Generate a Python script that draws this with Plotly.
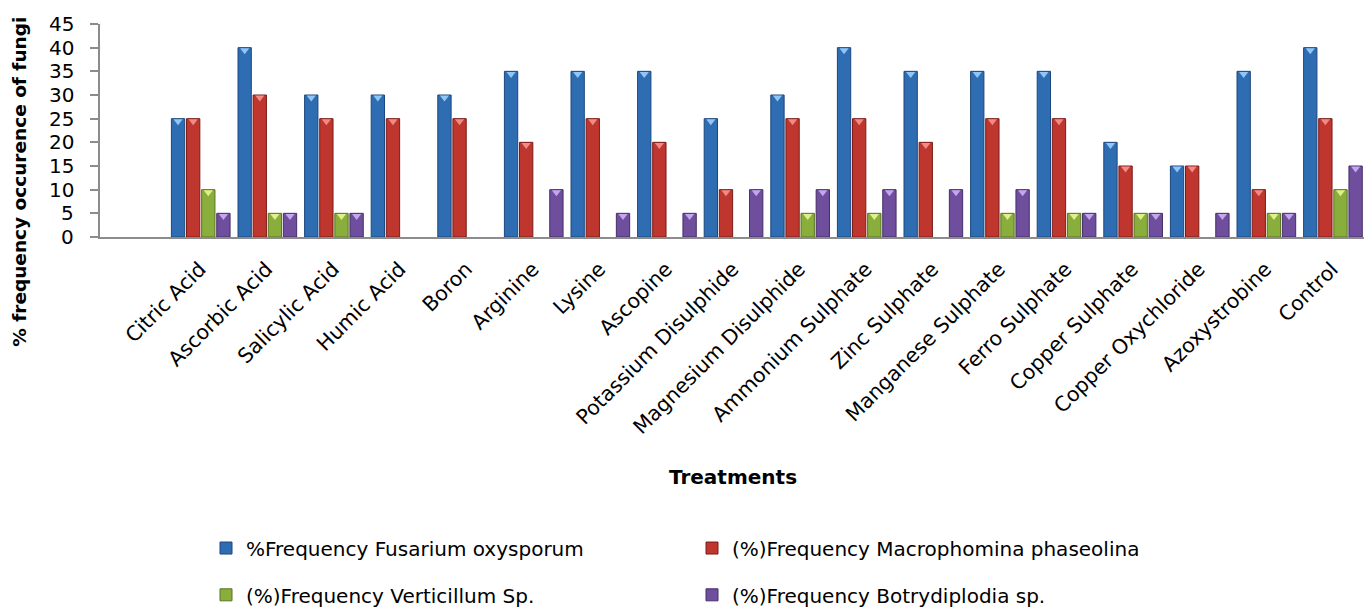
import plotly.graph_objects as go

treatments = ["Citric Acid", "Ascorbic Acid", "Salicylic Acid", "Humic Acid", "Boron",
              "Arginine", "Lysine", "Ascopine", "Potassium Disulphide", "Magnesium Disulphide",
              "Ammonium Sulphate", "Zinc Sulphate", "Manganese Sulphate", "Ferro Sulphate",
              "Copper Sulphate", "Copper Oxychloride", "Azoxystrobine", "Control"]

fusarium = [25, 40, 30, 30, 30, 35, 35, 35, 25, 30, 40, 35, 35, 35, 20, 15, 35, 40]
macrophomina = [25, 30, 25, 25, 25, 20, 25, 20, 10, 25, 25, 20, 25, 25, 15, 15, 10, 25]
verticillum = [10, 5, 5, 0, 0, 0, 0, 0, 0, 5, 5, 0, 5, 5, 5, 0, 5, 10]
botrydiplodia = [5, 5, 5, 0, 0, 10, 5, 5, 10, 10, 10, 10, 10, 5, 5, 5, 5, 15]

y_ticks = [0, 5, 10, 15, 20, 25, 30, 35, 40, 45]

series_names = ["%Frequency Fusarium oxysporum", "(%)Frequency Macrophomina phaseolina",
                "(%)Frequency Verticillum Sp.", "(%)Frequency Botrydiplodia sp."]
series_values = [fusarium, macrophomina, verticillum, botrydiplodia]

fill_colors = ["#2F6DB3", "#BE362D", "#8AAE3C", "#6F4E9E"]
edge_colors = ["#1C467C", "#7A1C18", "#587324", "#452E66"]
top_colors = ["#8FC6F7", "#F28A84", "#DDF08A", "#C4A6EE"]
legends = ["legend", "legend", "legend2", "legend2"]

FONT = "DejaVu Sans"
bar_w = 0.2
pitch = 0.227
start = -0.428

# page offset of the figure (body margin) and target plot box in page pixels
PLOT_L, PLOT_R, PLOT_T, PLOT_B = 100, 1364, 23.5, 237.5
OFF = 8
FIG_W, FIG_H = 1356, 599
PW, PH = PLOT_R - PLOT_L, PLOT_B - PLOT_T


def px_x(page_x):
    return (page_x - PLOT_L) / PW


def px_y(page_y):
    return (PLOT_B - page_y) / PH


x_idx = list(range(len(treatments)))
fig = go.Figure()

for k, (name, vals) in enumerate(zip(series_names, series_values)):
    yv = [v if v > 0 else None for v in vals]
    off = start + k * pitch
    fig.add_trace(go.Bar(
        x=x_idx, y=yv, name=name, width=bar_w, offset=off,
        marker=dict(color=fill_colors[k], line=dict(color=edge_colors[k], width=1)),
        legend=legends[k],
    ))
    # top bevel highlight
    fig.add_trace(go.Scatter(
        x=[i + off + bar_w / 2 for i in x_idx if vals[i] > 0],
        y=[vals[i] - 0.55 for i in x_idx if vals[i] > 0],
        mode="markers",
        marker=dict(symbol="triangle-down", size=8, color=top_colors[k],
                    line=dict(width=0)),
        showlegend=False, hoverinfo="skip",
    ))

fig.update_layout(
    width=FIG_W, height=FIG_H,
    margin=dict(l=PLOT_L - OFF, r=FIG_W - (PLOT_R - OFF), t=PLOT_T - OFF,
                b=FIG_H - (PLOT_B - OFF), autoexpand=False),
    paper_bgcolor="white", plot_bgcolor="white",
    barmode="overlay",
    font=dict(family=FONT, size=20, color="black"),
    showlegend=True,
    legend=dict(orientation="h", x=px_x(206), xanchor="left", y=px_y(550), yanchor="middle",
                entrywidth=441, entrywidthmode="pixels", font=dict(size=20, family=FONT),
                bgcolor="rgba(0,0,0,0)"),
    legend2=dict(orientation="h", x=px_x(206), xanchor="left", y=px_y(597), yanchor="middle",
                 entrywidth=441, entrywidthmode="pixels", font=dict(size=20, family=FONT),
                 bgcolor="rgba(0,0,0,0)"),
)

fig.update_xaxes(
    range=[-1.5, -1.5 + PW / 66.6], tickmode="array", tickvals=x_idx, ticktext=treatments,
    tickangle=-45, showline=True, linecolor="#8C8C8C", linewidth=2,
    ticks="", showgrid=False, zeroline=False, automargin=False,
    ticklabelstandoff=10,
    tickfont=dict(family=FONT, size=20.5, color="black"),
)
fig.update_yaxes(
    range=[0, 45], tickmode="array", tickvals=y_ticks, showticklabels=False,
    showline=True, linecolor="#8C8C8C", linewidth=2,
    ticks="outside", ticklen=8, tickwidth=2, tickcolor="#8C8C8C",
    automargin=False, showgrid=False, zeroline=False,
)

for v in y_ticks:
    fig.add_annotation(
        text=str(v), xref="paper", yref="y", x=px_x(76), y=v,
        showarrow=False, font=dict(family=FONT, size=20, color="black"),
        xanchor="right", yanchor="middle",
    )

fig.add_annotation(
    text="<b>Treatments</b>", xref="paper", yref="paper", x=px_x(733), y=px_y(479),
    showarrow=False, font=dict(family=FONT, size=20, color="black"),
    xanchor="center", yanchor="middle",
)
fig.add_annotation(
    text="<b>% frequency occurence of fungi</b>", xref="paper", yref="paper",
    x=px_x(20), y=px_y(182), textangle=-90,
    showarrow=False, font=dict(family=FONT, size=18.5, color="black"),
    xanchor="center", yanchor="middle",
)

fig.write_html("out.html")
